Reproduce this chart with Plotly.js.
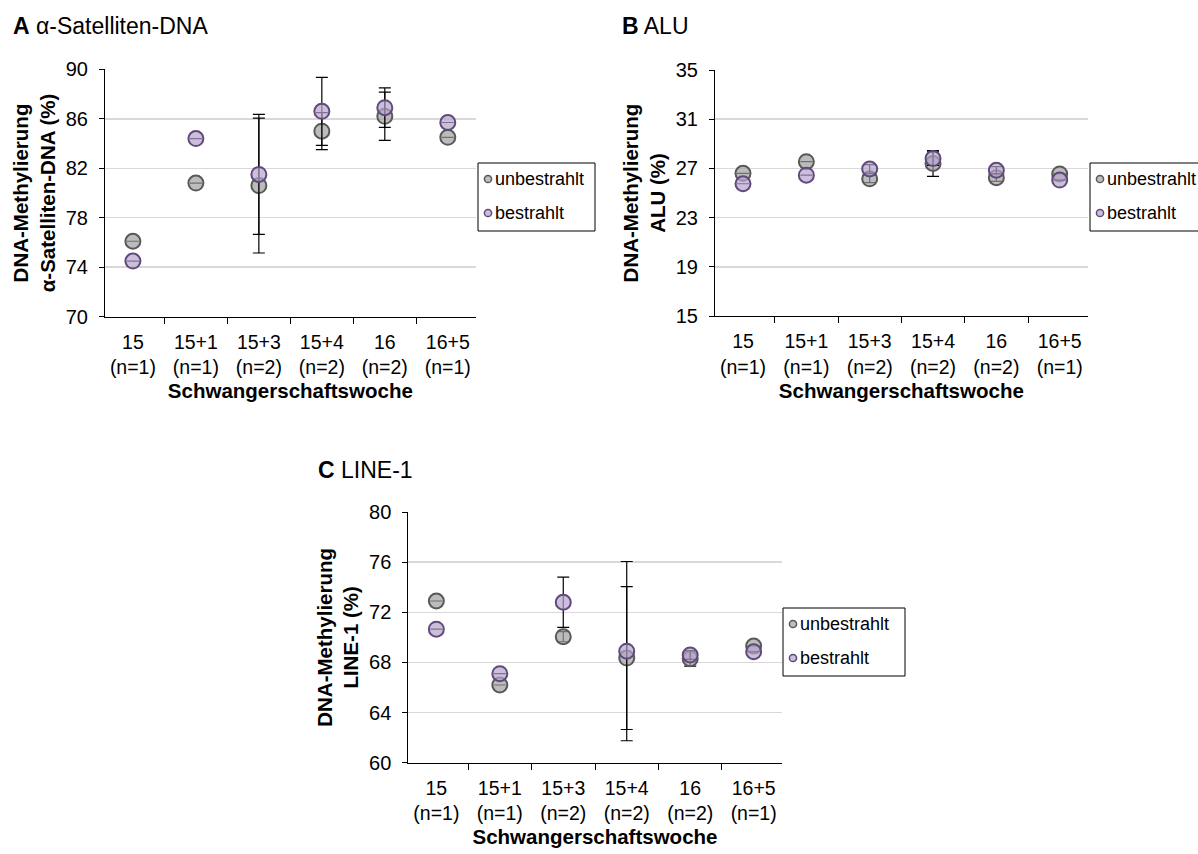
<!DOCTYPE html>
<html><head><meta charset="utf-8">
<script src="https://cdn.plot.ly/plotly-3.0.1.min.js"></script>
<style>body{margin:0;background:#fff}#chart{width:1198px;height:854px}</style>
</head><body><div id="chart"></div>
<script>
// ---- data ----
const weeks = ['15', '15+1', '15+3', '15+4', '16', '16+5'];
const nLabels = ['(n=1)', '(n=1)', '(n=2)', '(n=2)', '(n=2)', '(n=1)'];
const seriesNames = ['unbestrahlt', 'bestrahlt'];

const satUnbestrahlt = [76.1, 80.8, 80.6, 85.0, 86.2, 84.5];
const satUnbestrahltErr = [0, 0, 5.45, 1.5, 1.95, 0];
const satBestrahlt = [74.5, 84.4, 81.5, 86.6, 86.9, 85.7];
const satBestrahltErr = [0, 0, 4.85, 2.75, 1.6, 0];

const aluUnbestrahlt = [26.6, 27.55, 26.15, 27.4, 26.25, 26.55];
const aluUnbestrahltErr = [0, 0, 0.3, 1.05, 0.3, 0];
const aluBestrahlt = [25.75, 26.45, 26.95, 27.8, 26.85, 26.05];
const aluBestrahltErr = [0, 0, 0.35, 0.55, 0.3, 0];

const lineUnbestrahlt = [72.9, 66.2, 70.05, 68.35, 68.3, 69.3];
const lineUnbestrahltErr = [0, 0, 0.4, 5.7, 0.6, 0];
const lineBestrahlt = [70.65, 67.1, 72.8, 68.9, 68.6, 68.85];
const lineBestrahltErr = [0, 0, 2.0, 7.15, 0.35, 0];

const panelTitles = ['<b>A</b> α-Satelliten-DNA', '<b>B</b> ALU', '<b>C</b> LINE-1'];
const yTitles = ['<b>DNA-Methylierung<br>α-Satelliten-DNA (%)</b>', '<b>DNA-Methylierung<br>ALU (%)</b>', '<b>DNA-Methylierung<br>LINE-1 (%)</b>'];
const xTitle = '<b>Schwangerschaftswoche</b>';

// ---- styling ----
const FONT = 'Liberation Sans, Arial, Helvetica, sans-serif';
const cats = weeks.map((w, i) => w + '<br>' + nLabels[i]);
const styles = [
  {fill: 'rgba(160,160,160,0.7)', line: '#595959', legFill: '#bfbfbf'},
  {fill: 'rgba(181,164,205,0.7)', line: '#604a7b', legFill: '#cbbfdc'}
];

function series(xa, ya, vals, errs, k) {
  return {
    type: 'scatter', mode: 'markers', x: cats, y: vals,
    xaxis: xa, yaxis: ya, name: seriesNames[k], showlegend: false,
    marker: {size: 15, color: styles[k].fill, line: {color: styles[k].line, width: 2}},
    error_y: {type: 'data', array: errs, visible: true, color: '#000', thickness: 1.2, width: 6},
    hoverinfo: 'x+y'
  };
}

const data = [
  series('x', 'y', satUnbestrahlt, satUnbestrahltErr, 0),
  series('x', 'y', satBestrahlt, satBestrahltErr, 1),
  series('x2', 'y2', aluUnbestrahlt, aluUnbestrahltErr, 0),
  series('x2', 'y2', aluBestrahlt, aluBestrahltErr, 1),
  series('x3', 'y3', lineUnbestrahlt, lineUnbestrahltErr, 0),
  series('x3', 'y3', lineBestrahlt, lineBestrahltErr, 1)
];

const W = 1198, H = 854;
function xAxis(px0, px1, anchor) {
  return {
    domain: [px0 / W, px1 / W], anchor: anchor, type: 'category',
    categoryorder: 'array', categoryarray: cats,
    showline: true, linecolor: '#000', linewidth: 1,
    ticks: 'outside', ticklen: 6, tickcolor: '#000', tickwidth: 1, tickson: 'boundaries',
    showgrid: false, zeroline: false,
    tickfont: {family: FONT, size: 19.5, color: '#000'},
    ticklabelstandoff: 8,
    title: {text: xTitle, font: {family: FONT, size: 20.5, color: '#000'}, standoff: 6},
    fixedrange: true
  };
}
function yAxis(py0, py1, anchor, lo, hi, title) {
  return {
    domain: [1 - py1 / H, 1 - py0 / H], anchor: anchor,
    range: [lo, hi], tick0: lo, dtick: 4,
    showline: true, linecolor: '#000', linewidth: 1,
    ticks: 'outside', ticklen: 5, tickcolor: '#000', tickwidth: 1,
    showgrid: true, gridcolor: '#d9d9d9', gridwidth: 1.5, zeroline: false,
    tickfont: {family: FONT, size: 20, color: '#000'},
    ticklabelstandoff: 7,
    title: {text: title, font: {family: FONT, size: 20.5, color: '#000'}, standoff: 4},
    fixedrange: true
  };
}

// custom legend boxes (pixel positions converted to paper fractions)
const shapes = [];
const annotations = [];
function px(x) { return x / W; }
function py(y) { return 1 - y / H; }
function legendBox(left, top, right) {
  const bottom = top + 68;
  shapes.push({type: 'rect', xref: 'paper', yref: 'paper', x0: px(left), x1: px(right), y0: py(bottom), y1: py(top),
    line: {color: '#000', width: 1}, fillcolor: '#fff', layer: 'above'});
  [0, 1].forEach(k => {
    const cy = top + 16 + k * 34, cx = left + 10, r = 3.6;
    shapes.push({type: 'circle', xref: 'paper', yref: 'paper', x0: px(cx - r), x1: px(cx + r), y0: py(cy + r), y1: py(cy - r),
      line: {color: styles[k].line, width: 1.5}, fillcolor: styles[k].legFill, layer: 'above'});
    annotations.push({text: seriesNames[k], x: px(left + 15), y: py(cy), xref: 'paper', yref: 'paper',
      xanchor: 'left', yanchor: 'middle', showarrow: false, font: {family: FONT, size: 18, color: '#000'}});
  });
}
legendBox(478, 163, 595);
legendBox(1090, 163, 1210);
legendBox(783, 608, 905);

const titlePos = [[11, 26], [620, 26], [316, 470]];
titlePos.forEach((p, i) => annotations.push({
  text: panelTitles[i], x: px(p[0]), y: py(p[1]), xref: 'paper', yref: 'paper',
  xanchor: 'left', yanchor: 'middle', showarrow: false, font: {family: FONT, size: 23, color: '#000'}
}));

const layout = {
  width: W, height: H,
  margin: {l: 0, r: 0, t: 0, b: 0, autoexpand: false},
  paper_bgcolor: '#fff', plot_bgcolor: '#fff',
  font: {family: FONT, color: '#000'},
  xaxis: xAxis(105, 475.7, 'y'),
  yaxis: yAxis(69.3, 316.7, 'x', 70, 90, yTitles[0]),
  xaxis2: xAxis(715, 1087.7, 'y2'),
  yaxis2: yAxis(70, 316, 'x2', 15, 35, yTitles[1]),
  xaxis3: xAxis(408.3, 781.7, 'y3'),
  yaxis3: yAxis(512, 762.7, 'x3', 60, 80, yTitles[2]),
  shapes: shapes,
  annotations: annotations,
  showlegend: false
};

Plotly.newPlot('chart', data, layout, {displayModeBar: false, staticPlot: true});
</script>
</body></html>
